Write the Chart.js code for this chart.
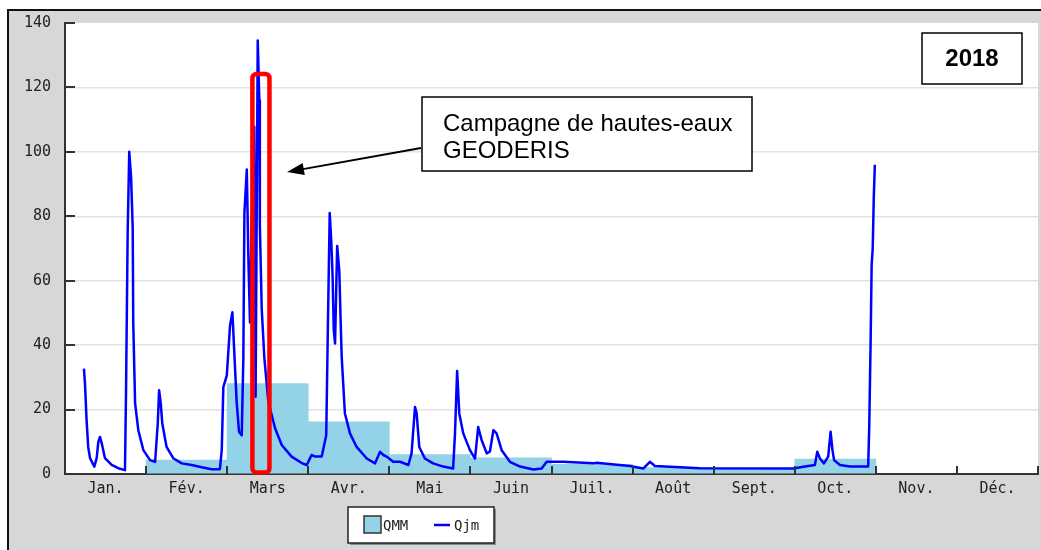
<!DOCTYPE html>
<html lang="fr">
<head>
<meta charset="utf-8">
<title>Débits 2018</title>
<script src="https://cdn.jsdelivr.net/npm/chart.js@4.4.1/dist/chart.umd.min.js"></script>
<style>
  html, body { margin: 0; padding: 0; background: #fff; }
  #wrap { width: 1041px; height: 550px; }
</style>
</head>
<body>
<div id="wrap"><canvas id="debit-chart" width="1041" height="550"></canvas></div>
<script>
// Mois de l'axe des x
const months = ['Jan.', 'Fév.', 'Mars', 'Avr.', 'Mai', 'Juin', 'Juil.', 'Août', 'Sept.', 'Oct.', 'Nov.', 'Déc.'];

// QMM : débit moyen mensuel (null = pas de valeur)
const qmmValues = [null, 4.3, 28.1, 16.2, 6.0, 5.0, 3.0, 2.0, 1.6, 4.6, null, null];

// Qjm : débit journalier, jour de l'année (0 = 1er janvier) et valeur
const qjmDays = [
  7.1, 7.5, 8.1, 8.7, 9.4, 11, 11.9, 12.5, 13.1, 13.8, 15, 17.5, 20, 22.5,
  22.9, 23.5, 24.1, 24.8, 25.4, 25.6, 26.3, 27.5, 29.4, 31.9, 33.8,
  34.8, 35.3, 35.9, 36.5, 38.1, 40.6, 43.8, 47.5, 51.3, 55, 58.1,
  58.8, 59.4, 60.7, 61.9, 62.8, 63.5, 64.4, 65.3, 66.3, 66.9, 67.3, 68.2, 68.8,
  69.4, 70, 71, 71.5, 72.3, 72.9, 73.1, 73.8, 74.8, 76.3, 78.8, 81.3, 85,
  88.8, 90.7, 92.5, 93.8, 96.3, 98, 98.6, 99.3, 99.9, 100.4, 100.8, 101.3,
  102.1, 102.9, 103.4, 103.8, 105, 106.9, 109.4, 113.2, 116.3, 118.2, 119.4,
  120.7, 123.1, 125.7, 128.8, 130, 131.3, 131.9, 132.9, 135, 138.1, 141.9,
  145.6, 146.3, 147.1, 147.9, 149.4, 151.9, 153.8, 155, 156.3, 158.2, 159.4,
  160.7, 161.9, 163.8, 166.9, 170.7, 175.7, 178.8, 180.7, 186.9, 198.2,
  199.4, 211.9, 216.9, 219.4, 221.3, 230.7, 238, 273.2, 277.6, 281.3, 282.2,
  283.2, 284.7, 286.3, 287.2, 287.9, 288.5, 290.7, 294.4, 301.3, 301.7,
  302.2, 302.6, 303, 303.4, 303.8
];
const qjmValues = [
  32.7, 28, 16.7, 8.4, 4.9, 2.3, 5, 10, 11.5, 9.5, 4.9, 2.8, 1.8, 1.2,
  26, 74.5, 100, 92, 76.4, 47, 21.9, 13.6, 7.4, 4.3, 3.8,
  15.7, 26, 22, 15.7, 8.4, 4.9, 3.3, 2.8, 2.1, 1.5, 1.5,
  7.4, 27, 30.6, 46, 50.2, 37.8, 22.3, 13.1, 12, 35.8, 81, 94.5, 66.7,
  47, 77, 107.8, 24, 134.6, 116, 77, 51.2, 35.8, 22.3, 14.2, 9, 5.4,
  3.4, 2.8, 5.9, 5.4, 5.4, 12, 45, 81, 72, 61, 45, 40.5,
  70.8, 63, 47.6, 36.3, 18.8, 12.6, 8.4, 4.8, 3.3, 6.9, 5.9,
  5.4, 3.8, 3.8, 2.8, 6.4, 20.8, 19, 8.4, 4.8, 3.3, 2.3,
  1.7, 12.6, 32, 18.8, 12.6, 7.4, 4.8, 14.6, 10.5, 6.4, 7,
  13.6, 12.6, 7.4, 3.8, 2.3, 1.4, 1.7, 3.8, 3.8, 3.3,
  3.5, 2.5, 1.7, 3.8, 2.5, 2.1, 1.8, 1.7, 2.3, 2.8, 6.9,
  4.8, 3.3, 5.4, 13.1, 7.4, 4.3, 2.8, 2.3, 2.3, 15.1,
  40.4, 65, 70, 86, 96
];

// Période de la campagne de hautes-eaux (jours) et hauteur du cadre rouge
const campaignDays = [70.3, 76.7];
const campaignRange = [0.5, 124.2];

const qmmColor = '#94d2e8';
const qjmColor = '#0000ff';
const monoFont = '"DejaVu Sans Mono", monospace';

const qjmPoints = qjmDays.map((d, i) => ({ x: d, y: qjmValues[i] }));

// Fond gris, cadre noir et zone de tracé blanche
const framePlugin = {
  id: 'frame',
  beforeDraw(chart) {
    const { ctx, chartArea: a, width, height } = chart;
    ctx.save();
    ctx.fillStyle = '#fff';
    ctx.fillRect(0, 0, width, height);
    ctx.fillStyle = '#d7d7d7';
    ctx.fillRect(8, 10, width - 8, height - 10);
    ctx.fillStyle = '#fff';
    ctx.fillRect(a.left, a.top, a.right - a.left, a.bottom - a.top);
    ctx.strokeStyle = '#111';
    ctx.lineWidth = 2;
    ctx.beginPath();
    ctx.moveTo(8, height);
    ctx.lineTo(8, 10);
    ctx.lineTo(width, 10);
    ctx.stroke();
    ctx.restore();
  }
};

function line(ctx, x1, y1, x2, y2) {
  ctx.beginPath();
  ctx.moveTo(x1, y1);
  ctx.lineTo(x2, y2);
  ctx.stroke();
}

// Graduations tournées vers l'intérieur, annotations et légende
const overlayPlugin = {
  id: 'overlay',
  afterDraw(chart) {
    const { ctx, chartArea: a } = chart;
    const x = chart.scales.x, xd = chart.scales.xd, y = chart.scales.y;
    ctx.save();

    // graduations
    ctx.strokeStyle = '#333';
    ctx.lineWidth = 2;
    for (let i = 1; i <= months.length; i++) {
      const px = Math.round(x.getPixelForValue(i - 0.5));
      line(ctx, px, a.bottom, px, a.bottom - 8);
    }
    y.ticks.forEach(t => {
      const py = Math.round(y.getPixelForValue(t.value));
      line(ctx, a.left, py, a.left + 10, py);
    });

    // cadre rouge de la campagne
    const rx1 = xd.getPixelForValue(campaignDays[0]);
    const rx2 = xd.getPixelForValue(campaignDays[1]);
    const ry1 = y.getPixelForValue(campaignRange[1]);
    const ry2 = y.getPixelForValue(campaignRange[0]);
    ctx.strokeStyle = '#ff0000';
    ctx.lineWidth = 4.5;
    ctx.beginPath();
    if (ctx.roundRect) ctx.roundRect(rx1, ry1, rx2 - rx1, ry2 - ry1, 4);
    else ctx.rect(rx1, ry1, rx2 - rx1, ry2 - ry1);
    ctx.stroke();

    // encadré texte
    ctx.fillStyle = '#fff';
    ctx.fillRect(422, 97, 330, 74);
    ctx.strokeStyle = '#000';
    ctx.lineWidth = 1.5;
    ctx.strokeRect(422, 97, 330, 74);
    ctx.fillStyle = '#000';
    ctx.font = '24px "Liberation Sans", Arial, sans-serif';
    ctx.textAlign = 'left';
    ctx.textBaseline = 'middle';
    ctx.fillText('Campagne de hautes-eaux', 443, 124);
    ctx.fillText('GEODERIS', 443, 151);

    // flèche
    const ax1 = 421, ay1 = 148, ax2 = 287, ay2 = 172;
    const ang = Math.atan2(ay2 - ay1, ax2 - ax1);
    ctx.lineWidth = 2;
    line(ctx, ax1, ay1, ax2 - 12 * Math.cos(ang), ay2 - 12 * Math.sin(ang));
    ctx.beginPath();
    ctx.moveTo(ax2, ay2);
    ctx.lineTo(ax2 - 17 * Math.cos(ang) + 6 * Math.sin(ang), ay2 - 17 * Math.sin(ang) - 6 * Math.cos(ang));
    ctx.lineTo(ax2 - 17 * Math.cos(ang) - 6 * Math.sin(ang), ay2 - 17 * Math.sin(ang) + 6 * Math.cos(ang));
    ctx.closePath();
    ctx.fill();

    // année
    ctx.fillStyle = '#fff';
    ctx.fillRect(922, 33, 100, 51);
    ctx.lineWidth = 1.5;
    ctx.strokeRect(922, 33, 100, 51);
    ctx.fillStyle = '#000';
    ctx.font = 'bold 24px "Liberation Sans", Arial, sans-serif';
    ctx.textAlign = 'center';
    ctx.fillText('2018', 972, 59);

    // légende
    const ds = chart.data.datasets;
    ctx.fillStyle = '#8a8a8a';
    ctx.fillRect(350, 509, 146, 36);
    ctx.fillStyle = '#fff';
    ctx.fillRect(348, 507, 146, 36);
    ctx.strokeStyle = '#222';
    ctx.lineWidth = 1.5;
    ctx.strokeRect(348, 507, 146, 36);
    ctx.fillStyle = ds[0].backgroundColor;
    ctx.fillRect(364, 516, 17, 17);
    ctx.strokeStyle = '#333';
    ctx.strokeRect(364, 516, 17, 17);
    ctx.fillStyle = '#222';
    ctx.font = '14px ' + monoFont;
    ctx.textAlign = 'left';
    ctx.fillText(ds[0].label, 383, 526);
    ctx.strokeStyle = ds[1].borderColor;
    ctx.lineWidth = 2.5;
    line(ctx, 434, 525, 450, 525);
    ctx.fillText(ds[1].label, 454, 526);

    ctx.restore();
  }
};

new Chart(document.getElementById('debit-chart'), {
  type: 'bar',
  data: {
    labels: months,
    datasets: [
      {
        label: 'QMM',
        data: qmmValues,
        backgroundColor: qmmColor,
        borderWidth: 0,
        barPercentage: 1,
        categoryPercentage: 1,
        grouped: false,
        xAxisID: 'x',
        order: 2
      },
      {
        type: 'line',
        label: 'Qjm',
        data: qjmPoints,
        borderColor: qjmColor,
        borderWidth: 2.5,
        pointRadius: 0,
        tension: 0,
        borderJoinStyle: 'round',
        xAxisID: 'xd',
        order: 1
      }
    ]
  },
  options: {
    responsive: false,
    animation: false,
    layout: { padding: { left: 8, top: 21, right: 3, bottom: 0 } },
    plugins: {
      legend: { display: false },
      tooltip: { enabled: false }
    },
    scales: {
      x: {
        type: 'category',
        offset: true,
        grid: { display: false, drawTicks: false },
        border: { display: true, color: '#333', width: 2 },
        ticks: { color: '#222', font: { family: monoFont, size: 15 }, padding: 6, maxRotation: 0 },
        afterFit(s) { s.height = 76; }
      },
      xd: {
        type: 'linear',
        display: false,
        offset: false,
        grid: { offset: false },
        min: 0,
        max: 365
      },
      y: {
        min: 0,
        max: 140,
        ticks: { stepSize: 20, color: '#222', font: { family: monoFont, size: 15 }, padding: 14 },
        grid: {
          drawTicks: false,
          lineWidth: 1.5,
          color: c => (c.tick && c.tick.value === 140) ? 'rgba(0,0,0,0)' : '#e2e2e2'
        },
        border: { display: true, color: '#333', width: 2 },
        afterFit(s) { s.width = 57; }
      }
    }
  },
  plugins: [framePlugin, overlayPlugin]
});
</script>
</body>
</html>
